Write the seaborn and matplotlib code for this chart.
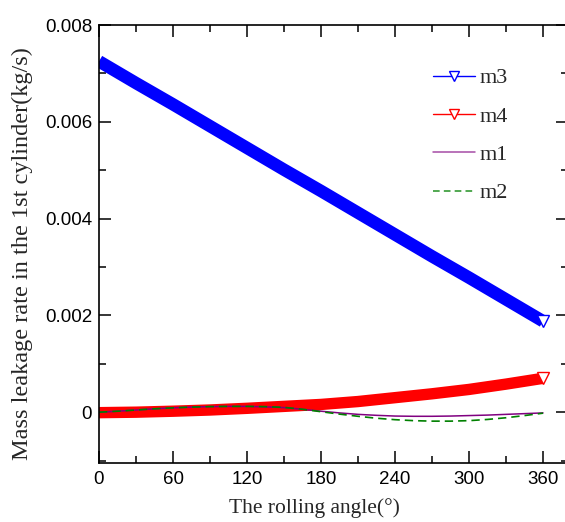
import matplotlib
matplotlib.use("Agg")
import matplotlib.pyplot as plt
from matplotlib.lines import Line2D
from matplotlib.ticker import MultipleLocator, FuncFormatter
import seaborn as sns
import pandas as pd

# Rolling angle grids (degrees)
angle_coarse = [0, 30, 60, 90, 120, 150, 180, 210, 240, 270, 300, 330, 360]
angle_fine = [0, 15, 30, 45, 60, 75, 90, 105, 120, 135, 150, 165, 180,
              195, 210, 225, 240, 255, 270, 285, 300, 315, 330, 345, 360]

# Mass leakage rates (kg/s)
m3 = [0.00725, 0.00680, 0.00636, 0.00591, 0.00546, 0.00501, 0.00457,
      0.00412, 0.00367, 0.00322, 0.00278, 0.00233, 0.00188]
m4 = [-0.00001, 0.00000, 0.00002, 0.000045, 0.00008, 0.00012, 0.00016,
      0.00022, 0.00030, 0.00038, 0.00047, 0.00058, 0.00070]
m1 = [0.0, 0.00002, 0.000045, 0.00007, 0.00009, 0.000105, 0.000115, 0.00012,
      0.00012, 0.00011, 0.000095, 0.00006, 0.00002, -0.000015, -0.000045,
      -0.000065, -0.00008, -0.000085, -0.000085, -0.00008, -0.00007,
      -0.00006, -0.000045, -0.00003, -0.000015]
m2 = [0.0, 0.00002, 0.000045, 0.00007, 0.00009, 0.000105, 0.000115, 0.00012,
      0.00012, 0.000115, 0.0001, 0.00006, 0.00001, -0.00004, -0.000085,
      -0.000125, -0.000155, -0.000175, -0.000185, -0.000185, -0.000175,
      -0.00015, -0.000115, -0.00007, -0.00002]

labels = ["m3", "m4", "m1", "m2"]
colors = {"m3": "#0000ff", "m4": "#ff0000", "m1": "#800080", "m2": "#008000"}

sns.set_style("ticks")
plt.rcParams["font.family"] = ["Liberation Sans", "DejaVu Sans"]

fig = plt.figure(figsize=(5.65, 5.22), dpi=100)
ax = fig.add_axes([99 / 565, 1 - 463 / 522, 468.7 / 565, 438 / 522])

df_coarse = pd.DataFrame({"angle": angle_coarse, "m3": m3, "m4": m4})
df_fine = pd.DataFrame({"angle": angle_fine, "m1": m1, "m2": m2})

# Thick marker bands for m3 / m4, open triangle at the last point
for name, lw in (("m3", 9.0), ("m4", 8.2)):
    sns.lineplot(data=df_coarse, x="angle", y=name, ax=ax, color=colors[name],
                 lw=lw, solid_capstyle="butt", marker="v",
                 markevery=[len(angle_coarse) - 1], ms=9,
                 mfc="white", mec=colors[name], mew=1.0, legend=False)

sns.lineplot(data=df_fine, x="angle", y="m1", ax=ax, color=colors["m1"],
             lw=1.1, legend=False)
sns.lineplot(data=df_fine, x="angle", y="m2", ax=ax, color=colors["m2"],
             lw=1.2, linestyle=(0, (5, 3)), legend=False)

ax.set_xlim(0, 380)
ax.set_ylim(-0.00105, 0.008)
ax.xaxis.set_major_locator(MultipleLocator(60))
ax.xaxis.set_minor_locator(MultipleLocator(30))
ax.yaxis.set_major_locator(MultipleLocator(0.002))
ax.yaxis.set_minor_locator(MultipleLocator(0.001))
ax.yaxis.set_major_formatter(FuncFormatter(lambda v, p: "0" if abs(v) < 1e-12 else f"{v:.3f}"))

ax.tick_params(which="both", direction="in", top=True, right=True, width=1.1,
               colors="black")
ax.tick_params(which="major", length=8.5, labelsize=13.5)
ax.tick_params(which="minor", length=5)
ax.tick_params(axis="x", which="major", pad=6)
ax.tick_params(axis="y", which="major", pad=5)
for sp in ax.spines.values():
    sp.set_linewidth(1.2)
    sp.set_color("black")

serif = ["Liberation Serif", "DejaVu Serif"]
ax.set_xlabel("The rolling angle(°)", fontsize=15.5, family=serif)
ax.set_ylabel("Mass leakage rate in the 1st cylinder(kg/s)", fontsize=17.5, family=serif)
ax.xaxis.set_label_coords(0.459, -0.103)
ax.yaxis.set_label_coords(-0.164, 0.479)
ax.xaxis.label.set_va("center")
ax.yaxis.label.set_va("center")

handles = [
    Line2D([], [], color=colors["m3"], lw=1.0, marker="v", ms=7, mfc="white", mec=colors["m3"]),
    Line2D([], [], color=colors["m4"], lw=1.0, marker="v", ms=7, mfc="white", mec=colors["m4"]),
    Line2D([], [], color=colors["m1"], lw=1.1, alpha=0.7),
    Line2D([], [], color=colors["m2"], lw=1.2, ls=(0, (4, 2.5)), alpha=0.8),
]
ax.legend(handles, labels, loc="upper left", bbox_to_anchor=(424 / 565, 1 - 59 / 522),
          bbox_transform=fig.transFigure, frameon=False, prop={"family": serif, "size": 16},
          handlelength=1.9, handletextpad=0.2, labelspacing=0.8, borderaxespad=0)

fig.savefig("out.png", dpi=100)
